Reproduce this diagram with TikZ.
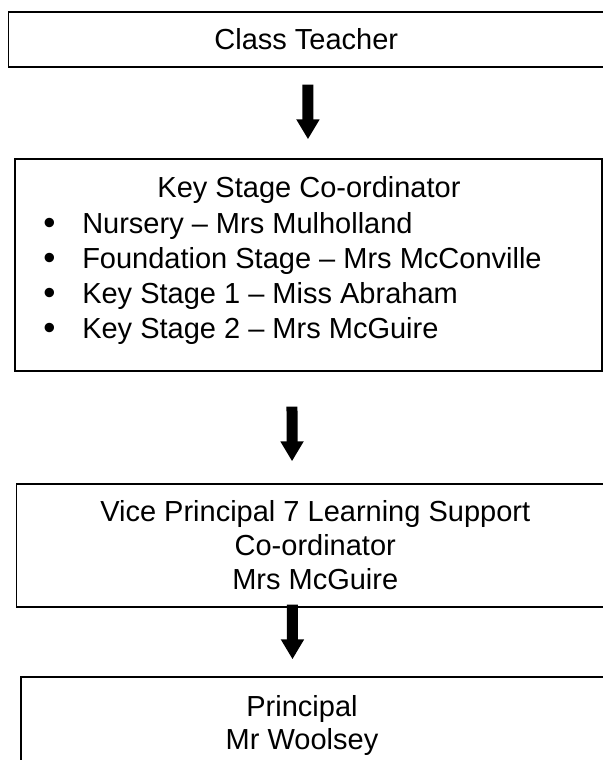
\documentclass[tikz,border=0pt]{standalone}
\usepackage{fontspec}
\setmainfont{Liberation Sans}
\usetikzlibrary{arrows.meta,positioning}
\newcommand{\ksbullet}{\makebox[29.25pt][l]{\raisebox{-1.3pt}{\fontsize{26pt}{0pt}\selectfont•}}}

\begin{document}
\begin{tikzpicture}[x=0.75pt, y=-0.75pt,
    box/.style={draw, rectangle, line width=1.1pt, inner sep=0pt},
    txt/.style={font=\fontsize{21.75pt}{25.5pt}\selectfont, inner sep=0pt},
    flow/.style={line width=8.25pt, -{Triangle[width=16.5pt,length=15pt]}}]
\useasboundingbox (0,0) rectangle (603,760);

% Class teacher
\node[box, txt, minimum width=446.6pt, minimum height=41.25pt] (teacher) at (306.25,39.5) {Class Teacher};

% Key stage co-ordinators
\node[box, minimum width=440.25pt, minimum height=159pt] (keystage) at (308.5,265) {};
\node[txt, anchor=base] (kstitle) at (309,197) {Key Stage Co-ordinator};
\node[txt, font=\fontsize{21.75pt}{26.25pt}\selectfont, align=left, anchor=base west] (kslist) at (43,338)
    {\ksbullet Nursery -- Mrs Mulholland\\
     \ksbullet Foundation Stage -- Mrs McConville\\
     \ksbullet Key Stage 1 -- Miss Abraham\\
     \ksbullet Key Stage 2 -- Mrs McGuire};

% Vice principal
\node[box, txt, align=center, minimum width=448.1pt, minimum height=92.25pt] (vp) at (315.25,545.5)
    {Vice Principal 7 Learning Support\\Co-ordinator\\Mrs McGuire};

% Principal
\node[box, minimum width=443.25pt, minimum height=90pt] (principal) at (316.5,737) {};
\node[txt, font=\fontsize{21.75pt}{24.75pt}\selectfont, align=center, anchor=base] (principaltext) at (302,749)
    {Principal\\Mr Woolsey};

% Arrows
\draw[flow, shorten <=12.75pt, shorten >=14.25pt] ([xshift=1.3pt]teacher.south) -- ([xshift=-0.4pt]keystage.north);
\draw[flow, shorten <=26.25pt, shorten >=16.5pt] ([xshift=-12.4pt]keystage.south) -- ([xshift=-17.4pt]vp.north);
\draw[flow, shorten <=-2.25pt, shorten >=12.75pt] ([xshift=-17.1pt]vp.south) -- ([xshift=-18pt]principal.north);
\end{tikzpicture}
\end{document}
